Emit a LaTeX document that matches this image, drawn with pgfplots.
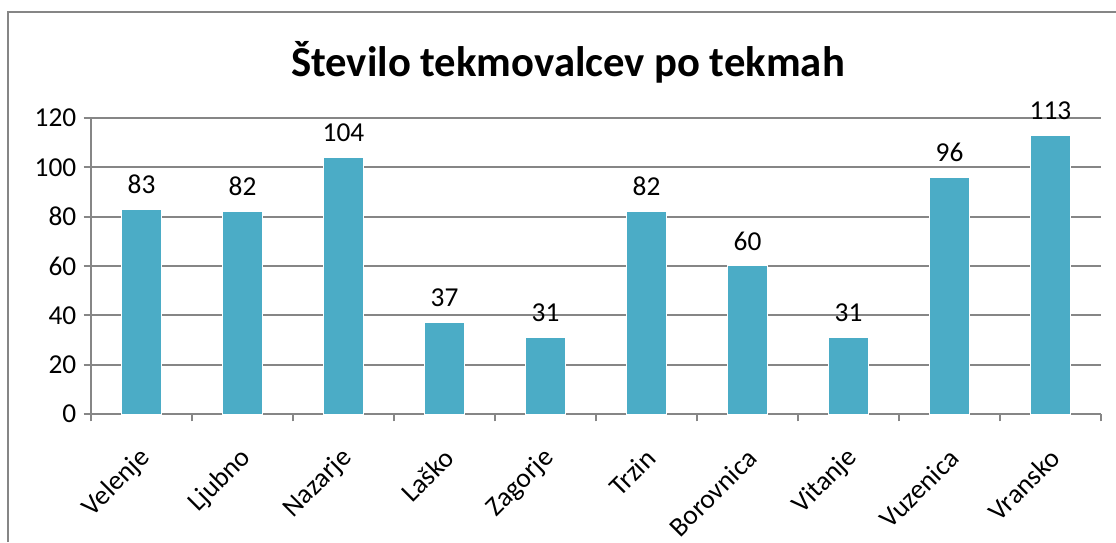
\documentclass[border=0pt]{standalone}
\usepackage{fontspec}
\setmainfont{Carlito}
\usepackage{pgfplots}
\pgfplotsset{compat=1.18}
\definecolor{barblue}{HTML}{4BACC6}
\definecolor{gridgray}{HTML}{868686}
\begin{document}
\begin{tikzpicture}
% page: 1116 x 542 px, 1px = 0.75pt
\path[use as bounding box] (0,0) rectangle (837pt,406.5pt);
\draw[gridgray, line width=1.2pt] (6pt,0) -- (6pt,397.5pt) -- (837pt,397.5pt);
\node[font=\fontsize{32pt}{36pt}\selectfont\bfseries] at (426pt,360pt) {Število tekmovalcev po tekmah};
\begin{axis}[
    at={(68.25pt,96pt)}, anchor=south west,
    scale only axis,
    width=757.5pt, height=222pt,
    xmin=-0.5, xmax=9.5,
    ymin=0, ymax=120,
    ytick={0,20,...,120},
    xtick={0,...,9},
    xticklabels={Velenje,Ljubno,Nazarje,Laško,Zagorje,Trzin,Borovnica,Vitanje,Vuzenica,Vransko},
    minor xtick={-0.5,0.5,...,9.5},
    major x tick style={draw=none},
    axis x line*=bottom, axis y line*=left,
    axis line style={gridgray, line width=1.3pt},
    tick style={gridgray, line width=1.3pt},
    tick align=outside,
    major tick length=5.5pt, minor tick length=5.5pt,
    ymajorgrids, grid style={gridgray, line width=1.3pt},
    ticklabel style={font=\fontsize{20.5pt}{24pt}\selectfont},
    /pgf/number format/assume math mode=true,
    yticklabel style={xshift=-2pt},
    xticklabel style={rotate=45, anchor=east, xshift=-11.5pt, yshift=-19.5pt},
    ybar, bar width=30pt,
    nodes near coords,
    nodes near coords style={font=\fontsize{20.5pt}{24pt}\selectfont, anchor=south, yshift=8pt},
    clip=false,
]
\addplot[fill=barblue, draw=white, line width=0.75pt] coordinates {
    (0,83) (1,82) (2,104) (3,37) (4,31) (5,82) (6,60) (7,31) (8,96) (9,113)
};
\end{axis}
\end{tikzpicture}
\end{document}
